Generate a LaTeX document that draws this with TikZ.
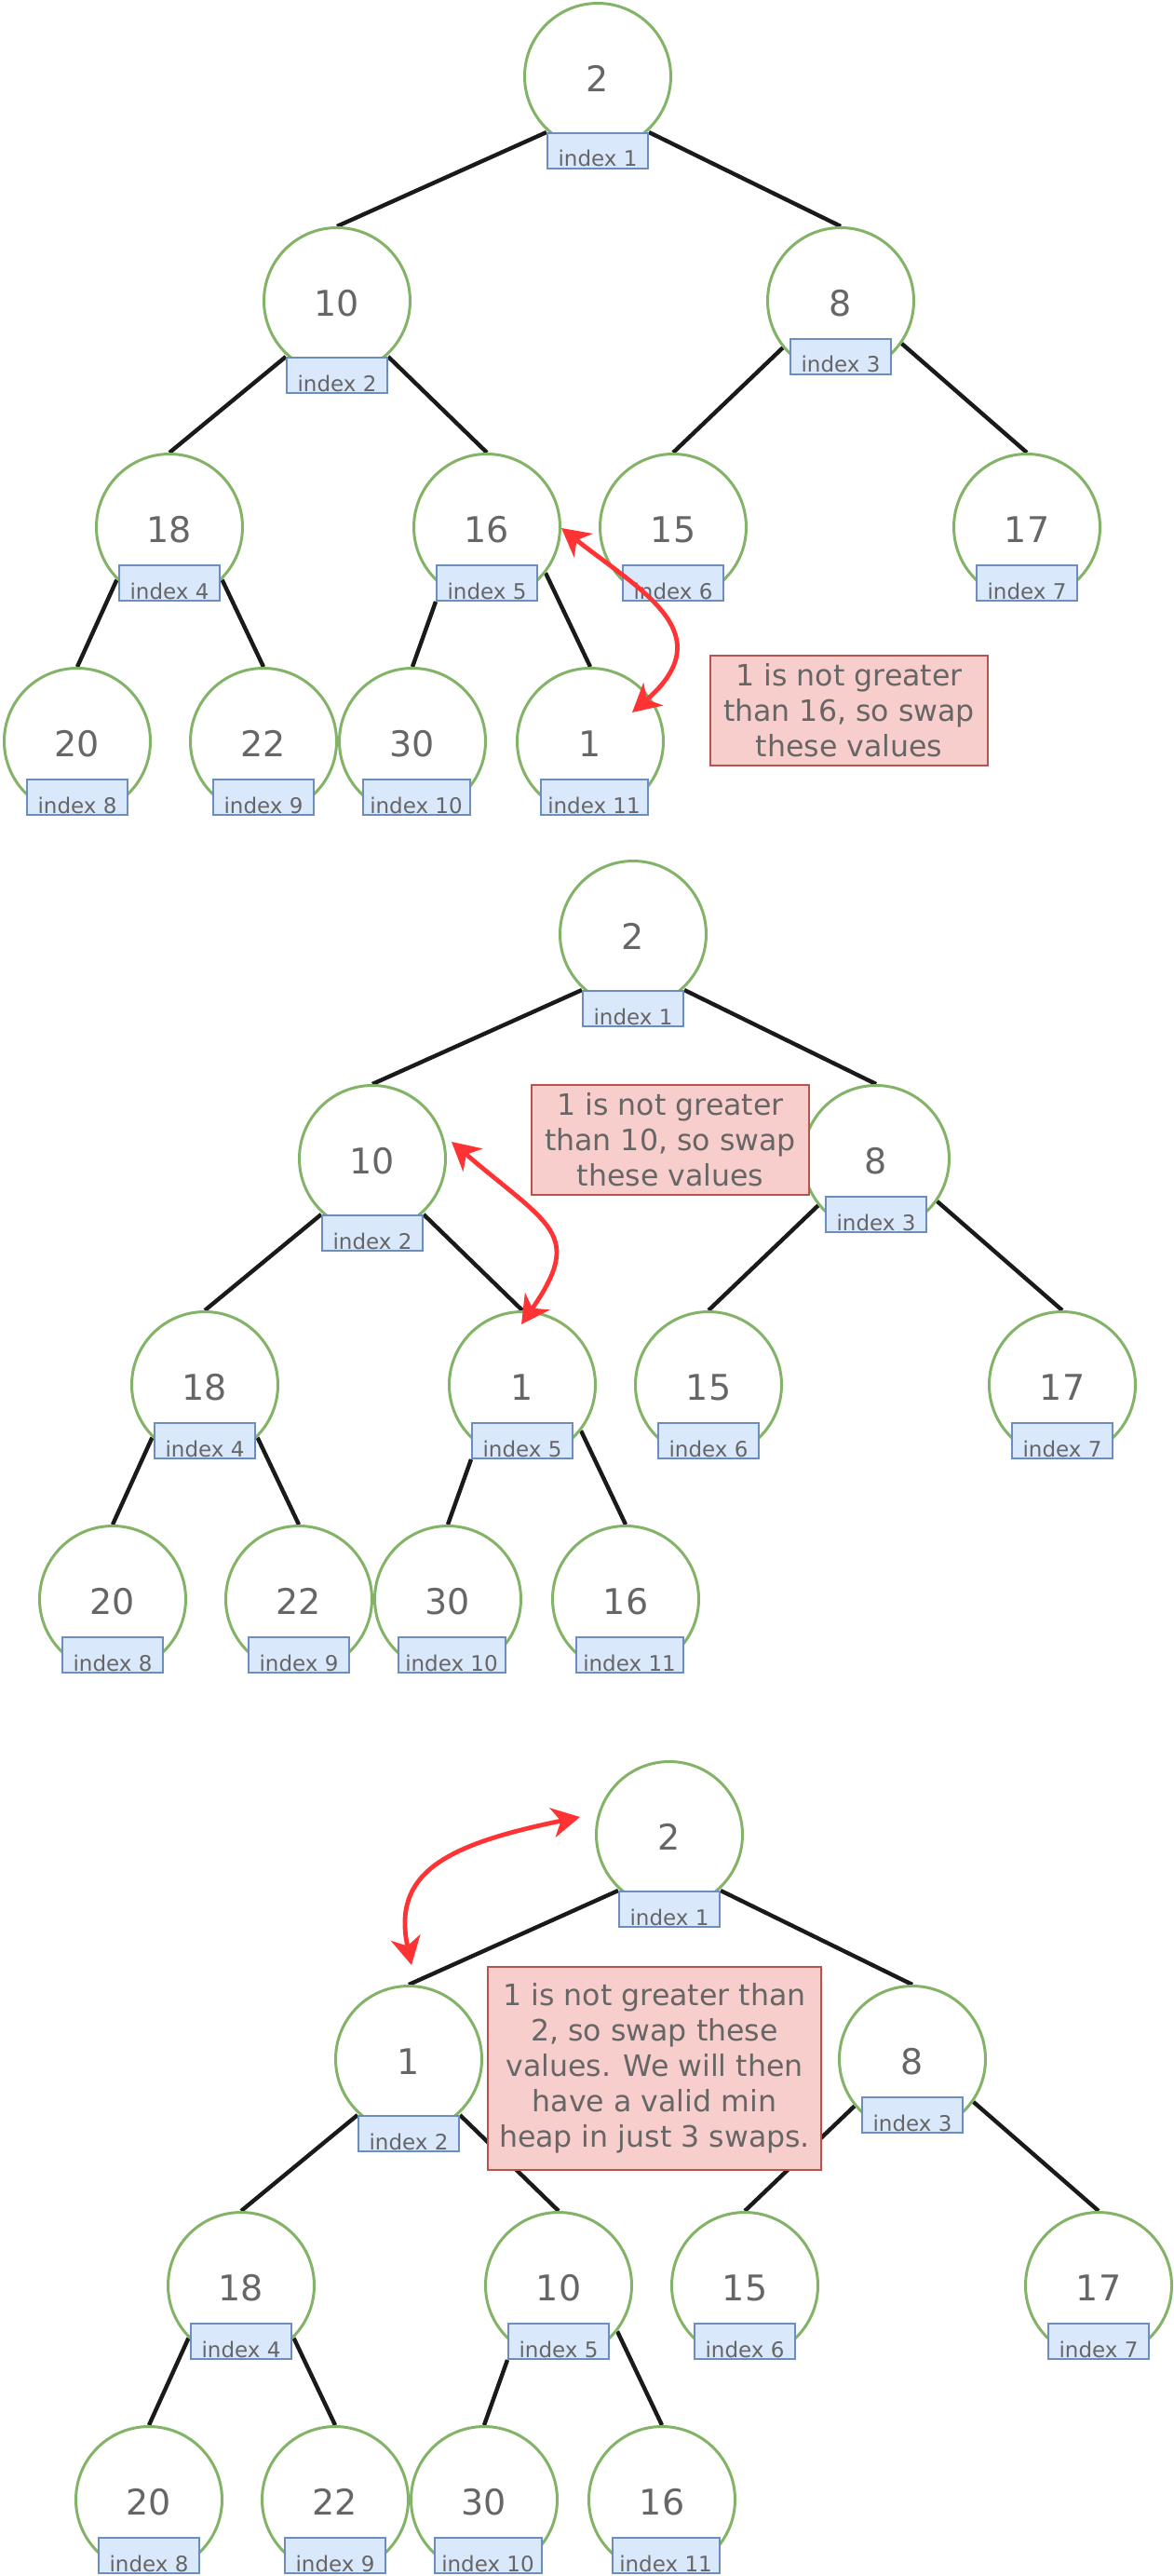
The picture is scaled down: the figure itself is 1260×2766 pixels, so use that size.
\documentclass[tikz,border=0pt]{standalone}
\usepackage{fontspec}
\setmainfont{DejaVu Sans}
\usetikzlibrary{arrows.meta,backgrounds,calc}
\definecolor{ngreen}{HTML}{82B366}
\definecolor{bfill}{HTML}{DAE8FC}
\definecolor{bstroke}{HTML}{6C8EBF}
\definecolor{rfill}{HTML}{F8CECC}
\definecolor{rstroke}{HTML}{B85450}
\definecolor{tgray}{HTML}{666666}
\definecolor{ecol}{HTML}{1A1A1A}
\definecolor{acol}{HTML}{FF3333}
\tikzset{
  circ/.style={circle, draw=ngreen, line width=1.5pt, fill=white, minimum size=78.5pt,
    inner sep=0pt, text=tgray, font=\fontsize{19}{20}\selectfont, text height=16.8pt, text depth=0pt},
  idx/.style={rectangle, draw=bstroke, fill=bfill, line width=1pt, minimum width=54pt,
    minimum height=19pt, inner sep=0pt, text=tgray, font=\fontsize{11.5}{12}\selectfont,
    text height=17pt, text depth=0pt},
  idxw/.style={idx, minimum width=57.5pt},
  treeedge/.style={draw=ecol, line width=2.2pt},
  swaparrow/.style={draw=acol, line width=2.4pt,
    {Stealth[length=15pt,width=16pt,inset=4.5pt]}-{Stealth[length=15pt,width=16pt,inset=4.5pt]}},
  note/.style={rectangle, draw=rstroke, fill=rfill, line width=1pt, align=center,
    text=tgray, font=\fontsize{15.8}{19}\selectfont, inner sep=0pt},
}
\newcommand{\hptree}[6]{%
  \begin{scope}[shift={(#2,#3)}]
    \node[circ] (#1n1) at (642,82) {2};
    \node[circ] (#1n2) at (362,323) {#4};
    \node[circ] (#1n3) at (903,323) {8};
    \node[circ] (#1n4) at (182,566) {18};
    \node[circ] (#1n5) at (523,566) {#5};
    \node[circ] (#1n6) at (723,566) {15};
    \node[circ] (#1n7) at (1103,566) {17};
    \node[circ] (#1n8) at (83,796) {20};
    \node[circ] (#1n9) at (283,796) {22};
    \node[circ] (#1n10) at (443,796) {30};
    \node[circ] (#1n11) at (634,796) {#6};
    \node[idx] (#1b1) at (642,162) {index 1};
    \node[idx] (#1b2) at (362,403) {index 2};
    \node[idx] (#1b3) at (903,383) {index 3};
    \node[idx] (#1b4) at (182,626) {index 4};
    \node[idx] (#1b5) at (523,626) {index 5};
    \node[idx] (#1b6) at (723,626) {index 6};
    \node[idx] (#1b7) at (1103,626) {index 7};
    \node[idx] (#1b8) at (83,856) {index 8};
    \node[idx] (#1b9) at (283,856) {index 9};
    \node[idxw] (#1b10) at (447,856) {index 10};
    \node[idxw] (#1b11) at (638,856) {index 11};
    \begin{scope}[on background layer]
      \draw[treeedge] (#1b1.north west) -- (#1n2.north);
      \draw[treeedge] (#1b1.north east) -- (#1n3.north);
      \draw[treeedge] (#1b2.north west) -- (#1n4.north);
      \draw[treeedge] (#1b2.north east) -- (#1n5.north);
      \draw[treeedge] (#1n3.-141) -- (#1n6.north);
      \draw[treeedge] (#1n3.-35) -- (#1n7.north);
      \draw[treeedge] (#1n4.-135) -- (#1n8.north);
      \draw[treeedge] (#1n4.-45) -- (#1n9.north);
      \draw[treeedge] (#1b5.south west) -- (#1n10.north);
      \draw[treeedge] (#1n5.-38) -- (#1n11.north);
    \end{scope}
  \end{scope}}
\begin{document}
\begin{tikzpicture}[x=0.5pt,y=-0.5pt]
  \begin{scope}[on background layer]
    \path[use as bounding box, fill=white] (0,0) rectangle (1260,2766);
  \end{scope}
  \hptree{A}{0}{0}{10}{16}{1}
  \hptree{B}{38}{921}{10}{1}{16}
  \hptree{C}{77}{1888}{1}{10}{16}
  % notes
  \node[note, minimum width=149pt, minimum height=59pt] (note1) at (912,763)
    {1 is not greater\\than 16, so swap\\these values};
  \node[note, minimum width=149pt, minimum height=59pt] (note2) at (720,1224)
    {1 is not greater\\than 10, so swap\\these values};
  \node[note, minimum width=179pt, minimum height=109pt] (note3) at (703,2221)
    {1 is not greater than\\2, so swap these\\values. We will then\\have a valid min\\heap in just 3 swaps.};
  % swap arrows
  \draw[swaparrow] ($(An5)+(80,1)$) .. controls (689,635) and (777,680) .. ($(An11)+(45,-31)$);
  \draw[swaparrow] ($(Bn2)+(85,-18)$) .. controls (590,1316) and (628,1324) .. ($(Bn5)+(-1,-65)$);
  \draw[swaparrow] ($(Cn1)+(-96,-19)$) .. controls (476,1981) and (421,2012) .. ($(Cn2)+(3,-101)$);
\end{tikzpicture}
\end{document}
